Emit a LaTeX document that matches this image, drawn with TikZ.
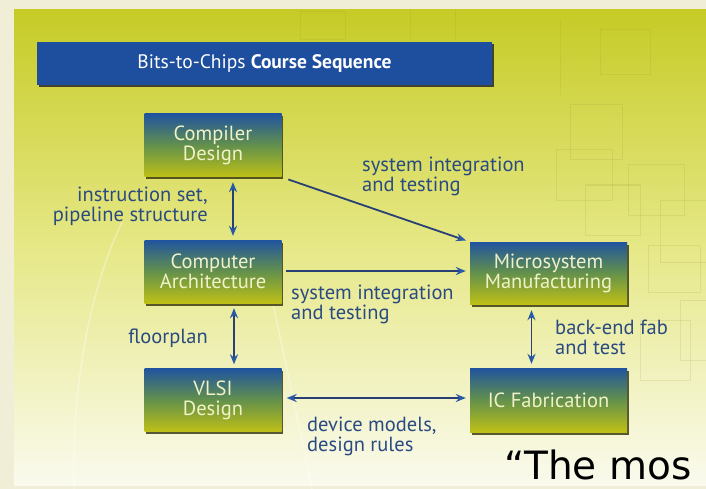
\documentclass[tikz,border=0pt]{standalone}
\usepackage{fontspec}
\setmainfont{PT Sans}
\newfontfamily\quotefont{DejaVu Sans}
\usetikzlibrary{arrows.meta,shadows}
\definecolor{bgcream}{RGB}{240,238,214}
\definecolor{panelTop}{RGB}{198,203,38}
\definecolor{panelMid}{RGB}{230,232,135}
\definecolor{panelBot}{RGB}{250,250,238}
\definecolor{titleblue}{RGB}{30,78,158}
\definecolor{boxTop}{RGB}{32,84,158}
\definecolor{boxMid}{RGB}{100,145,75}
\definecolor{boxBot}{RGB}{190,192,22}
\definecolor{boxText}{RGB}{240,242,200}
\definecolor{shadowc}{RGB}{60,60,20}
\definecolor{lineblue}{RGB}{40,64,115}
\definecolor{headblue}{RGB}{40,90,165}
\definecolor{lblblue}{RGB}{42,74,130}
\definecolor{decor}{RGB}{150,155,60}
\tikzset{
  boxnode/.style={rectangle, minimum width=137pt, minimum height=63pt, inner sep=0pt,
    top color=boxTop, bottom color=boxBot, middle color=boxMid, text=boxText,
    align=center, font=\fontsize{20.5}{20}\selectfont,
    drop shadow={shadow xshift=1.5pt, shadow yshift=-2.5pt, fill=shadowc, opacity=0.85}},
  titlebar/.style={rectangle, minimum width=455pt, minimum height=43pt, inner sep=0pt,
    fill=titleblue, text=white, font=\fontsize{19.5}{19.5}\selectfont,
    drop shadow={shadow xshift=1.5pt, shadow yshift=-2.5pt, fill=black!80, opacity=0.9}},
  lbl/.style={text=lblblue, font=\fontsize{20.5}{20}\selectfont, inner sep=0pt},
  conn/.style={draw=lineblue, line width=1.8pt},
  both/.style={conn, {Stealth[length=10pt,width=8pt,color=headblue]}-{Stealth[length=10pt,width=8pt,color=headblue]}},
  one/.style={conn, -{Stealth[length=10pt,width=8pt,color=headblue]}},
  deco/.style={draw=decor, opacity=0.17, line width=1pt}
}
\begin{document}
\begin{tikzpicture}[x=1pt,y=-1pt]
\useasboundingbox (0,0) rectangle (706,489);
\clip (0,0) rectangle (706,489);
\fill[bgcream] (0,0) rectangle (706,489);
\shade[top color=panelTop, bottom color=panelBot, middle color=panelMid] (14,10) rectangle (706,485);
% faint background texture
\draw[deco] (570,105) rectangle (622,160);
\draw[deco] (556,150) rectangle (612,200);
\draw[deco] (585,185) rectangle (640,235);
\draw[deco] (628,165) rectangle (684,215);
\draw[deco] (660,200) rectangle (706,262);
\draw[deco] (648,245) rectangle (700,292);
\draw[deco] (600,30) rectangle (650,75);
\draw[deco] (560,20) -- (560,95);
\draw[deco] (300,12) rectangle (345,40);
\draw[deco] (410,10) -- (410,40);
\draw[deco] (455,10) -- (455,40);
\draw[deco] (680,300) rectangle (706,360);
\draw[deco] (640,320) rectangle (690,380);
\draw[white, opacity=0.35, line width=1.5pt] (122,222) .. controls (85,300) and (72,400) .. (74,489);
\draw[white, opacity=0.35, line width=1.5pt] (270,290) .. controls (285,360) and (300,430) .. (312,489);
% title
\node[titlebar] (title) at (264.5,63.5) {Bits-to-Chips \textbf{Course Sequence}};
% boxes
\node[boxnode] (comp) at (213,145.5) {Compiler\\Design};
\node[boxnode] (arch) at (213,271.5) {Computer\\Architecture};
\node[boxnode] (vlsi) at (213,400) {VLSI\\Design};
\node[boxnode, minimum width=157pt, minimum height=62pt] (micro) at (548.5,273) {Microsystem\\Manufacturing};
\node[boxnode, minimum width=157pt, minimum height=64pt] (icfab) at (548.5,400) {IC Fabrication};
% connectors
\draw[both, shorten <=5pt, shorten >=4pt] ([xshift=20pt]comp.south) -- ([xshift=20pt]arch.north);
\draw[both, shorten <=5pt, shorten >=4pt] ([xshift=21pt]arch.south) -- ([xshift=21pt]vlsi.north);
\draw[both, shorten <=6pt, shorten >=4pt] ([xshift=-17pt]micro.south) -- ([xshift=-17pt]icfab.north);
\draw[one, shorten <=7pt, shorten >=4pt] (comp.south east) -- (micro.north west);
\coordinate (ae) at ([yshift=0.5pt]arch.east);
\draw[one, shorten <=4pt, shorten >=4pt] (ae) -- (ae -| micro.west);
\draw[both, shorten <=5pt, shorten >=4pt] ([yshift=2pt]vlsi.east) -- ([yshift=2pt]vlsi.east -| icfab.west);
% labels
\node[lbl, anchor=east, align=right] (l1) at (208,206) {instruction set,\\pipeline structure};
\node[lbl, anchor=east] (l2) at (208,338) {floorplan};
\node[lbl, anchor=west, align=left] (l3) at (362,176) {system integration\\and testing};
\node[lbl, anchor=west, align=left] (l4) at (291,304) {system integration\\and testing};
\node[lbl, anchor=west, align=left] (l5) at (555,337) {back-end fab\\and test};
\node[lbl, anchor=west, align=left] (l6) at (307,436) {device models,\\design rules};
% quote fragment at the lower edge
\node[anchor=base west, inner sep=0pt, font=\quotefont\fontsize{39}{39}\selectfont, text=black] (q) at (504,479) {“The mos};
\end{tikzpicture}
\end{document}
